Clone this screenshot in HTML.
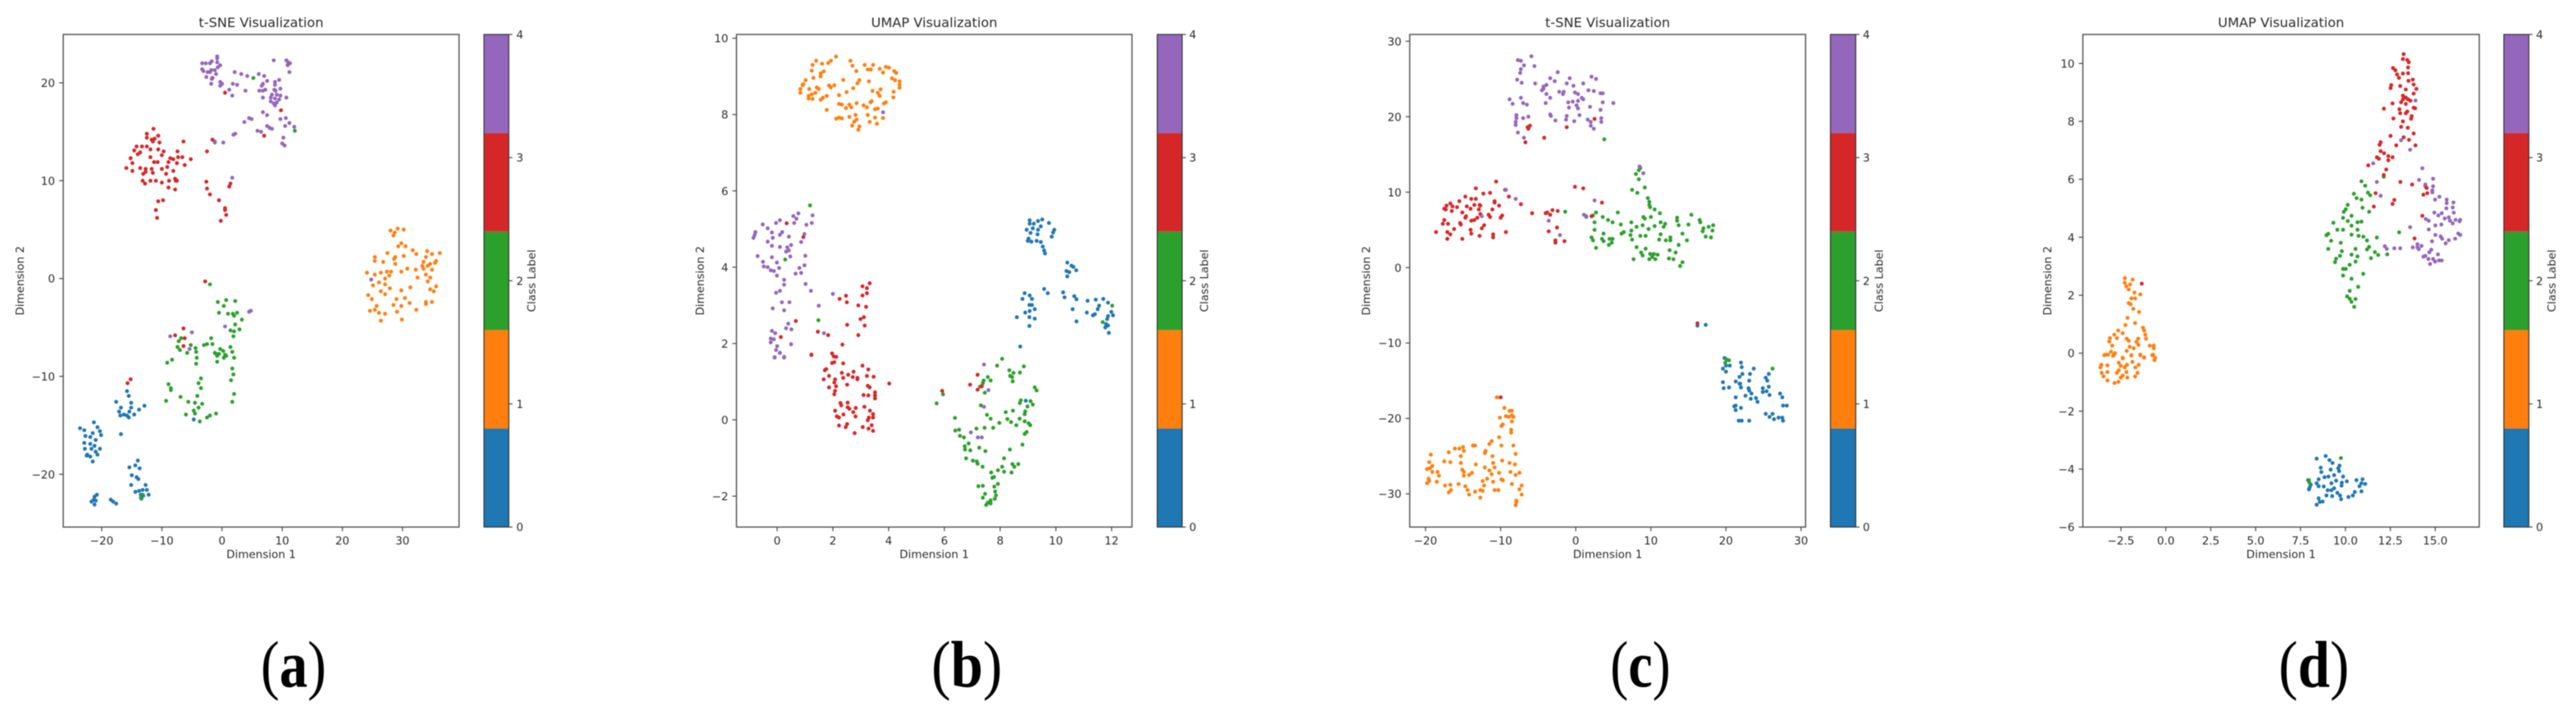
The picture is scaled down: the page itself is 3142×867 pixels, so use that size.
<!DOCTYPE html>
<html lang="en">
<head>
<meta charset="utf-8">
<title>t-SNE and UMAP Visualizations</title>
<style>
html,body{margin:0;padding:0;background:#fff;}
body{width:3142px;height:867px;overflow:hidden;}
svg{display:block;filter:blur(0.6px);}
text{font-family:"DejaVu Sans","Liberation Sans",sans-serif;fill:#2a2a2a;}
.caption{font-family:"Liberation Serif",serif;fill:#000;}
</style>
</head>
<body>
<svg id="figure" xmlns="http://www.w3.org/2000/svg" width="3142" height="867" viewBox="0 0 3142 867"></svg>
<script>
const classTicks = [0, 1, 2, 3, 4];
const classColors = ['#1f77b4', '#ff7f0e', '#2ca02c', '#d62728', '#9467bd'];

const aClass0 = [[-15.8,-11.5],[-15.5,-12.0],[-17.6,-12.6],[-15.1,-12.7],[-12.9,-13.0],[-13.8,-13.4],[-16.8,-13.2],[-15.1,-13.2],[-17.1,-13.6],[-15.4,-13.6],[-14.6,-13.9],[-16.9,-14.0],[-16.3,-13.9],[-15.8,-14.0],[-15.5,-14.2],[-21.3,-14.7],[-20.7,-15.2],[-23.6,-15.3],[-22.9,-15.5],[-20.3,-15.6],[-21.5,-15.8],[-20.1,-16.0],[-16.8,-15.9],[-22.7,-16.1],[-21.9,-16.2],[-21.0,-16.5],[-22.9,-16.8],[-21.9,-16.9],[-21.2,-17.1],[-22.8,-17.4],[-20.3,-17.4],[-21.7,-17.4],[-21.0,-17.7],[-22.4,-18.0],[-20.7,-18.0],[-21.9,-18.2],[-22.5,-18.1],[-21.5,-18.7],[-14.0,-18.6],[-14.4,-19.1],[-15.4,-19.3],[-13.7,-19.4],[-15.0,-20.1],[-14.2,-20.3],[-13.9,-20.5],[-15.1,-21.1],[-12.7,-21.1],[-14.4,-21.8],[-13.8,-21.7],[-13.2,-21.6],[-12.5,-21.6],[-13.5,-22.1],[-12.2,-22.1],[-13.1,-22.2],[-13.4,-22.5],[-20.8,-22.1],[-21.2,-22.3],[-21.3,-22.6],[-21.7,-22.8],[-21.0,-22.7],[-21.2,-23.1],[-18.5,-22.6],[-18.1,-22.8],[-17.6,-23.0],[-4.7,-14.4]];
const aClass1 = [[28.0,4.9],[29.2,5.1],[30.2,5.0],[28.7,4.7],[28.5,4.4],[29.8,3.6],[29.3,3.3],[30.5,3.3],[31.7,2.9],[27.5,2.6],[32.3,2.5],[34.1,2.8],[34.9,2.5],[36.2,2.6],[25.4,2.2],[28.8,2.2],[30.2,2.3],[33.9,2.2],[25.4,1.8],[26.8,1.7],[28.6,2.0],[33.5,1.7],[35.6,1.8],[34.6,1.5],[33.3,1.3],[34.2,1.3],[35.4,1.6],[28.8,1.5],[33.5,1.0],[24.1,0.6],[25.4,0.4],[26.4,0.6],[27.4,0.7],[28.1,0.7],[29.8,0.7],[30.8,1.0],[32.2,0.9],[34.9,0.9],[33.9,0.4],[27.8,0.3],[27.1,0],[32.5,0.1],[26.1,-0.4],[25.1,-0.7],[27.1,-0.6],[34.6,0.1],[34.2,-0.3],[35.6,-0.8],[34.6,-1.1],[35.2,-1.3],[27.9,-1.0],[29.8,-1.2],[31.3,-0.9],[26.4,-1.3],[27.1,-1.6],[24.3,-1.7],[24.9,-2.1],[30.4,-2.0],[29.0,-2.1],[33.9,-2.4],[34.9,-2.4],[31.2,-2.5],[29.8,-2.8],[28.5,-2.7],[25.7,-2.8],[33.9,-2.6],[24.6,-3.3],[25.4,-3.2],[26.1,-3.5],[27.1,-3.6],[29.1,-3.4],[32.3,-3.2],[26.4,-4.3],[29.9,-4.2]];
const aClass2 = [[5.2,20.5],[12.1,15.1],[-1.2,14.0],[-2.0,-0.6],[-0.7,-2.4],[0.7,-2.2],[2.2,-2.3],[0.3,-2.8],[-0.5,-3.5],[1.0,-3.6],[1.8,-3.6],[2.5,-3.5],[2.0,-3.8],[3.3,-4.2],[2.2,-4.7],[1.4,-5.3],[2.0,-5.4],[2.9,-5.2],[1.9,-5.9],[-1.8,-6.1],[-6.8,-6.1],[-7.2,-6.4],[-5.2,-6.8],[-7.4,-7.0],[-3.0,-6.8],[-2.5,-6.7],[-1.6,-6.7],[-7.0,-7.3],[-4.4,-7.1],[-0.3,-7.2],[1.4,-7.0],[0.2,-7.4],[1.7,-7.5],[-5.8,-7.6],[-4.3,-7.5],[-1.2,-7.6],[-0.5,-7.7],[0.5,-7.8],[2.0,-8.1],[-4.2,-8.1],[-8.3,-8.3],[-0.8,-7.9],[-4.3,-8.7],[-1.0,-7.7],[0.7,-7.9],[0.3,-8.1],[-0.8,-8.5],[-9.1,-8.6],[1.7,-9.2],[1.9,-9.8],[1.5,-10.4],[-8.9,-10.8],[-8.5,-11.2],[-8.5,-11.4],[-3.5,-10.2],[-3.9,-10.7],[-3.5,-11.2],[2.0,-11.8],[1.7,-12.6],[-4.1,-12.0],[-6.9,-12.1],[-9.3,-12.5],[-5.6,-12.6],[-4.5,-12.7],[-3.3,-12.8],[-3.9,-13.2],[-4.7,-13.5],[-4.5,-13.8],[-6.0,-13.9],[-1.0,-13.8],[-2.0,-14.0],[-2.5,-14.2],[-3.7,-14.6],[-13.2,-22.1],[-13.5,-22.4]];
const aClass3 = [[-11.4,15.3],[-12.5,14.8],[-10.6,14.6],[-12.5,14.4],[-11.7,14.2],[-11.2,14.3],[-11.5,14.0],[-10.4,13.9],[-6.4,14.0],[-14.2,13.5],[-13.3,13.5],[-12.5,13.5],[-14.6,13.1],[-13.6,12.9],[-11.9,13.2],[-10.6,13.2],[-9.7,13.0],[-7.4,13.0],[-14.0,12.7],[-10.0,12.6],[-15.2,12.3],[-11.9,12.4],[-8.6,12.3],[-8.1,12.2],[-7.3,12.4],[-6.6,12.4],[-5.2,12.2],[-14.9,11.8],[-11.3,11.9],[-10.7,11.9],[-8.9,11.9],[-7.5,11.8],[-6.2,11.6],[-15.9,11.3],[-13.6,11.3],[-12.7,11.2],[-11.7,11.2],[-10.0,11.2],[-9.1,11.4],[-14.9,11.0],[-12.7,10.9],[-11.5,10.8],[-8.1,11.0],[-13.1,10.7],[-9.3,10.7],[-13.2,10.0],[-11.9,10.0],[-11.0,10.0],[-7.8,10.2],[-7.5,10.0],[-12.8,9.7],[-10.0,9.8],[-8.8,10.0],[-7.7,10.0],[-8.9,9.3],[-7.8,9.1],[-10.6,7.9],[-9.8,8.0],[-11.0,7.0],[-10.8,6.2],[-2.5,13.0],[-1.6,14.2],[-2.6,9.9],[-2.5,9.2],[-2.0,8.6],[-0.5,8.0],[0.5,7.2],[0.5,7.0],[0.7,6.5],[-0.2,5.9],[1.4,9.7],[1.2,9.4],[-1.6,20.5],[0.5,19.0],[9.8,17.2],[7.0,14.6],[-6.4,-5.1],[-7.8,-5.8],[-6.2,-6.1],[-6.4,-6.9],[-2.8,-0.3],[-15.2,-10.3],[-15.7,-10.7]];
const aClass4 = [[-0.8,22.7],[-0.8,22.5],[-1.7,22.2],[-3.3,22.0],[-2.7,22.0],[-2.0,22.0],[-0.8,22.1],[-0.3,21.8],[-0.7,21.6],[-1.2,21.3],[-1.8,21.3],[-2.4,21.1],[-3.3,21.4],[-3.1,21.2],[-2.0,21.1],[-1.0,20.9],[-2.6,20.6],[-1.7,20.4],[-0.3,20.1],[0,19.9],[-0.3,19.7],[-1.8,19.9],[2.1,21.1],[3.2,20.9],[4.2,20.7],[6.1,20.9],[7.0,20.7],[8.6,22.3],[10.7,22.3],[11.0,22.1],[11.3,22.0],[10.9,21.8],[11.2,21.1],[7.5,20.2],[6.8,19.9],[6.6,19.7],[8.8,20.1],[9.5,20.3],[8.8,19.8],[1.8,19.9],[2.5,19.8],[1.2,19.3],[1.7,18.7],[3.9,19.2],[6.2,19.2],[6.8,19.2],[7.2,19.3],[8.7,19.3],[9.7,19.4],[8.9,19.2],[6.8,18.5],[8.3,18.8],[9.1,18.8],[9.7,18.7],[10.7,18.5],[8.1,18.5],[8.8,18.4],[9.5,18.3],[8.1,18.1],[8.6,17.9],[9.1,18.0],[8.8,17.7],[6.8,17.0],[7.5,16.7],[3.7,16.0],[4.5,16.4],[4.9,16.3],[9.7,16.3],[10.6,16.4],[10.5,15.6],[11.2,15.9],[12.0,15.5],[7.5,15.6],[7.9,15.4],[8.3,15.3],[5.9,15.1],[6.5,15.0],[2.2,14.8],[1.9,14.7],[10.2,14.4],[10.0,13.8],[10.4,13.6],[0.2,13.9],[-1.2,13.9],[1.7,10.3],[24.8,-0.1],[4.8,-3.3],[4.5,-3.4],[0.5,-4.9],[-8.6,-5.9],[-5.0,-5.5],[-5.4,-7.2]];

const bClass0 = [[9.06,5.23],[9.51,5.25],[9.36,5.21],[9.75,5.16],[9.06,5.14],[9.21,5.14],[9.46,5.07],[8.95,4.98],[9.17,5.02],[9.36,4.98],[9.94,4.98],[9.09,4.90],[9.90,4.91],[9.34,4.86],[9.02,4.75],[9.85,4.80],[8.99,4.69],[9.12,4.67],[9.31,4.69],[9.46,4.66],[9.53,4.54],[9.58,4.44],[9.61,4.36],[10.41,4.12],[10.56,4.04],[10.63,4.01],[10.38,3.90],[10.73,3.92],[10.48,3.87],[10.41,3.76],[9.58,3.43],[9.71,3.32],[10.26,3.34],[8.88,3.32],[9.06,3.26],[10.66,3.24],[10.31,3.21],[8.80,3.17],[9.14,3.17],[10.74,3.16],[11.14,3.12],[11.43,3.15],[11.70,3.17],[9.05,3.01],[9.14,3.01],[10.60,2.90],[11.87,3.07],[11.55,2.99],[9.24,2.90],[9.06,2.85],[8.90,2.81],[11.50,2.90],[11.11,2.81],[11.40,2.77],[11.99,2.83],[11.87,2.72],[12.05,2.74],[8.60,2.69],[9.05,2.69],[9.24,2.65],[11.33,2.74],[10.74,2.58],[11.84,2.64],[9.05,2.46],[11.80,2.51],[11.87,2.47],[11.77,2.42],[11.90,2.28],[8.72,1.92],[8.92,0.50]];
const bClass1 = [[2.11,9.52],[1.40,9.41],[2.63,9.41],[1.93,9.41],[1.83,9.35],[1.61,9.33],[1.27,9.30],[3.14,9.30],[3.44,9.30],[2.70,9.28],[3.90,9.25],[4.01,9.23],[3.68,9.20],[3.25,9.18],[3.36,9.18],[4.20,9.14],[4.27,9.09],[1.24,9.15],[1.67,9.13],[1.56,9.08],[2.84,9.14],[3.80,9.10],[1.56,9.00],[1.30,8.96],[2.37,8.91],[4.12,8.95],[4.23,8.90],[4.39,8.87],[2.95,8.90],[3.29,8.87],[1.02,8.90],[0.94,8.80],[2.88,8.82],[4.39,8.78],[0.91,8.77],[1.86,8.76],[2.05,8.77],[0.83,8.67],[1.15,8.67],[1.42,8.71],[1.49,8.67],[1.93,8.71],[2.73,8.69],[4.39,8.70],[3.71,8.66],[3.42,8.62],[0.83,8.57],[1.37,8.57],[1.24,8.53],[2.22,8.51],[2.49,8.59],[4.18,8.60],[3.61,8.57],[3.68,8.49],[1.13,8.49],[1.78,8.49],[1.64,8.44],[1.56,8.39],[1.27,8.41],[1.13,8.42],[4.17,8.45],[3.39,8.35],[3.90,8.32],[3.35,8.32],[2.85,8.30],[2.22,8.28],[2.32,8.26],[2.59,8.26],[3.83,8.29],[3.10,8.24],[3.22,8.19],[2.66,8.19],[2.47,8.17],[3.61,8.16],[3.51,8.14],[1.78,8.12],[3.80,7.91],[3.25,7.99],[2.81,7.99],[2.59,7.94],[3.51,7.92],[2.12,7.89],[2.32,7.90],[2.85,7.87],[2.76,7.81],[3.32,7.81],[3.58,7.76],[2.69,7.71],[2.95,7.69],[2.91,7.60],[2.22,7.92]];
const bClass2 = [[1.18,5.62],[0.29,4.20],[1.48,2.61],[12.02,2.99],[11.68,2.56],[8.07,1.60],[7.89,1.42],[8.85,1.40],[8.33,1.30],[8.48,1.23],[8.71,1.24],[8.36,1.15],[8.43,1.12],[8.45,1.01],[7.56,1.12],[7.66,1.03],[7.41,1.03],[7.38,0.96],[7.28,0.87],[7.45,0.71],[9.24,0.85],[9.31,0.77],[5.95,0.67],[5.72,0.43],[8.74,0.51],[8.71,0.44],[9.09,0.49],[9.17,0.40],[8.98,0.35],[7.31,0.38],[8.20,0.20],[8.46,0.24],[8.90,0.22],[8.88,0.15],[7.53,0.13],[6.38,0.05],[7.66,0.03],[8.26,0.02],[8.70,0.03],[8.39,-0.06],[8.88,-0.04],[9.02,-0.09],[9.08,-0.14],[8.58,-0.14],[7.97,-0.08],[6.53,-0.26],[6.39,-0.28],[7.15,-0.23],[7.44,-0.21],[7.75,-0.21],[8.95,-0.32],[8.88,-0.37],[6.56,-0.42],[6.70,-0.46],[8.80,-0.65],[6.87,-0.62],[6.73,-0.69],[6.74,-0.78],[6.93,-0.80],[7.25,-0.73],[7.47,-0.82],[8.35,-0.78],[6.78,-1.01],[7.02,-1.07],[7.16,-1.09],[7.19,-1.15],[7.37,-1.23],[8.14,-1.01],[8.07,-1.23],[7.92,-1.32],[7.68,-1.38],[8.14,-1.36],[8.41,-1.38],[8.44,-1.16],[8.51,-1.23],[8.65,-1.16],[7.78,-1.50],[7.72,-1.52],[7.92,-1.68],[7.79,-1.75],[7.22,-1.74],[7.38,-1.73],[7.46,-1.94],[7.38,-2.04],[7.82,-1.88],[7.85,-1.98],[7.81,-2.07],[7.66,-2.11],[7.56,-2.17],[7.50,-2.23],[7.66,-2.19]];
const bClass3 = [[0.34,5.15],[0.94,4.79],[0.67,2.59],[0.13,2.17],[3.32,3.58],[3.06,3.50],[3.22,3.45],[3.22,3.32],[3.06,3.26],[2.47,3.25],[2.24,3.17],[2.50,3.08],[2.91,3.00],[3.19,2.96],[3.11,2.69],[2.99,2.64],[2.51,2.49],[3.14,2.47],[1.46,2.31],[1.83,2.22],[2.91,2.22],[2.34,1.97],[1.23,1.70],[1.97,1.74],[2.12,1.65],[1.23,1.71],[2.03,1.66],[2.05,1.51],[1.97,1.49],[2.37,1.48],[3.06,1.42],[3.27,1.32],[1.76,1.33],[1.71,1.30],[2.32,1.23],[2.74,1.26],[2.55,1.18],[2.37,1.10],[2.71,1.12],[2.88,1.10],[3.46,1.13],[3.22,1.15],[1.86,1.15],[1.67,1.06],[2.08,1.06],[2.05,0.98],[2.88,1.06],[4.02,0.95],[2.51,0.92],[3.25,0.89],[3.32,0.85],[1.86,0.85],[2.11,0.88],[2.08,0.76],[2.05,0.67],[3.51,0.72],[3.51,0.64],[3.10,0.65],[3.27,0.64],[3.51,0.56],[2.27,0.44],[2.53,0.45],[2.30,0.38],[2.53,0.33],[2.59,0.29],[3.13,0.34],[2.82,0.31],[2.08,0.24],[3.33,0.24],[2.73,0.20],[3.44,0.15],[2.38,0.14],[2.14,0.09],[2.22,0.06],[2.81,0.09],[3.44,0.06],[3.29,0.06],[3.25,-0.01],[2.51,-0.11],[2.22,-0.15],[2.46,-0.19],[3.07,-0.19],[3.39,-0.14],[3.28,-0.23],[3.44,-0.29],[2.78,-0.35],[5.92,0.76],[7.19,1.18],[6.92,0.92],[7.34,0.88],[7.19,0.79]];
const bClass4 = [[3.80,8.06],[0.58,5.34],[0.76,5.41],[0.69,5.27],[1.27,5.36],[0.61,5.16],[1.24,5.16],[1.05,5.11],[0.10,5.23],[-0.04,5.16],[-0.52,5.12],[-0.34,5.02],[-0.78,4.92],[-0.19,4.91],[0.18,4.92],[0.98,4.87],[0.10,4.85],[-0.85,4.77],[-0.81,4.84],[-0.16,4.77],[0.42,4.80],[0.86,4.66],[-0.34,4.67],[0.50,4.58],[-0.19,4.56],[0.10,4.53],[0.36,4.52],[0.42,4.44],[0.32,4.41],[-0.70,4.29],[-0.19,4.26],[0.47,4.28],[1.01,4.30],[-0.51,4.14],[-0.01,4.12],[0.07,3.98],[-0.48,4.02],[-0.34,4.00],[-0.23,3.92],[-0.12,3.90],[0.98,4.05],[0.80,3.98],[0.86,3.85],[0.66,3.83],[-0.01,3.78],[0.25,3.67],[0.25,3.54],[1.02,3.56],[1.21,3.38],[0.10,3.38],[-0.04,3.33],[2.00,3.30],[0.17,3.08],[0.44,3.08],[-0.16,2.92],[0.25,2.87],[1.49,2.99],[0.40,2.52],[-0.19,2.33],[-0.07,2.27],[0.32,2.40],[0.51,2.37],[-0.23,2.13],[-0.12,2.11],[-0.23,2.03],[0.50,1.98],[0,1.93],[-0.04,1.83],[0.10,1.76],[-0.09,1.64],[0.25,1.65],[1.68,2.27],[0.10,1.75],[-0.09,1.63],[0.25,1.63],[7.42,1.45],[7.58,0.78],[7.42,0.34],[6.95,-0.33],[7.20,-0.46],[7.34,-0.46]];

const cClass0 = [[16.2,-7.7],[17.3,-7.6],[19.8,-12.0],[22.0,-12.6],[19.6,-13.4],[20.0,-13.0],[20.5,-13.0],[22.1,-13.2],[23.7,-13.4],[23.2,-14.1],[25.7,-14.1],[25.3,-14.6],[22.2,-14.1],[21.8,-14.5],[20.0,-13.8],[21.3,-15.1],[21.9,-15.4],[23.1,-15.0],[25.5,-15.0],[19.6,-15.2],[21.8,-15.4],[19.7,-16.0],[20.4,-15.9],[22.0,-15.9],[23.0,-16.0],[25.7,-15.8],[24.9,-16.0],[23.1,-16.3],[23.4,-16.7],[24.9,-16.5],[25.4,-16.4],[25.8,-16.9],[27.2,-16.7],[27.5,-17.2],[21.3,-17.2],[22.6,-17.0],[23.3,-17.4],[24.0,-17.3],[24.2,-17.8],[27.6,-18.3],[28.1,-18.3],[21.3,-18.3],[21.1,-18.4],[22.0,-18.6],[21.3,-18.9],[25.3,-19.4],[26.2,-19.4],[25.8,-19.8],[27.0,-19.9],[27.5,-19.9],[27.6,-20.3],[26.4,-20.1],[21.7,-20.3],[22.1,-20.3],[23.1,-20.3]];
const cClass1 = [[-10.5,-17.2],[-9.5,-18.6],[-8.8,-19.0],[-8.5,-19.0],[-9.3,-19.7],[-8.9,-19.8],[-10.1,-19.9],[-8.5,-19.6],[-8.3,-19.8],[-8.5,-20.4],[-9.7,-20.8],[-9.9,-21.0],[-8.6,-21.5],[-8.6,-21.9],[-10.2,-22.5],[-11.2,-23.0],[-11.5,-23.4],[-9.9,-23.6],[-8.3,-23.6],[-13.4,-23.6],[-13.7,-23.6],[-15.0,-23.8],[-15.5,-24.0],[-16.1,-24.0],[-14.9,-24.3],[-15.3,-25.0],[-16.9,-24.5],[-12.0,-24.3],[-12.1,-24.6],[-19.3,-24.8],[-11.1,-25.0],[-8.0,-24.7],[-19.5,-25.8],[-17.5,-25.7],[-16.7,-25.8],[-15.3,-25.9],[-13.3,-26.1],[-11.0,-25.9],[-9.8,-25.6],[-8.8,-25.9],[-8.1,-26.1],[-19.1,-26.3],[-12.1,-26.5],[-19.4,-26.6],[-10.8,-26.5],[-19.8,-26.7],[-15.1,-26.8],[-11.5,-26.9],[-14.9,-27.1],[-13.8,-27.2],[-14.2,-27.5],[-8.7,-27.1],[-7.5,-27.2],[-19.1,-27.1],[-18.4,-27.1],[-18.2,-27.6],[-14.9,-27.6],[-11.2,-27.4],[-10.2,-27.2],[-8.0,-27.5],[-19.6,-28.0],[-19.5,-28.3],[-18.5,-28.4],[-19.8,-28.6],[-12.4,-28.3],[-11.8,-28.0],[-9.9,-28.1],[-9.7,-28.2],[-11.0,-28.4],[-17.4,-28.9],[-16.7,-28.8],[-15.6,-28.7],[-14.7,-29.0],[-12.2,-28.9],[-8.5,-28.7],[-7.2,-28.9],[-14.4,-29.5],[-16.9,-29.8],[-16.6,-29.5],[-13.4,-29.7],[-12.7,-29.5],[-12.4,-29.6],[-10.8,-29.5],[-10.3,-29.5],[-7.5,-29.4],[-14.2,-30.1],[-12.7,-30.5],[-7.2,-30.1],[-7.9,-30.9],[-7.9,-31.1],[-8.0,-31.5]];
const cClass2 = [[3.8,17.0],[8.6,13.2],[8.4,12.9],[8.0,12.4],[8.4,11.7],[9.2,10.6],[7.5,10.3],[8.2,9.9],[9.6,9.2],[9.8,8.7],[9.8,8.3],[9.9,8.0],[10.5,7.7],[11.2,7.2],[5.6,7.3],[-1.4,7.4],[2.7,7.3],[1.4,6.7],[2.3,6.9],[3.6,6.7],[4.3,6.3],[4.9,6.0],[2.5,6.0],[6.0,5.7],[7.4,6.0],[9.0,6.7],[9.2,6.5],[10.0,6.7],[11.3,6.0],[10.5,5.5],[11.9,5.8],[11.7,5.4],[9.7,5.1],[8.9,5.6],[8.1,5.4],[7.4,4.9],[13.5,6.6],[13.7,5.6],[13.5,6.2],[15.4,7.0],[15.0,5.7],[16.5,6.3],[16.6,6.0],[18.3,5.6],[17.7,5.4],[17.0,5.2],[18.2,4.9],[16.9,4.8],[17.3,4.1],[18.0,4.0],[2.5,5.0],[6.4,4.7],[6.1,4.5],[3.7,4.5],[7.3,4.3],[8.6,4.2],[9.3,4.2],[11.3,4.4],[11.1,3.7],[14.2,4.5],[12.6,4.0],[2.1,4.0],[2.3,3.6],[3.5,3.8],[4.5,3.8],[4.9,3.8],[3.7,3.5],[4.8,3.3],[4.4,3.0],[7.5,3.7],[12.0,3.6],[12.6,3.6],[14.8,3.6],[13.7,3.0],[2.7,2.6],[8.1,2.7],[9.3,2.5],[12.5,2.3],[13.3,2.0],[8.7,2.0],[8.9,1.6],[9.9,1.8],[10.4,1.8],[10.9,1.7],[10.2,1.4],[9.8,1.1],[10.6,1.1],[7.7,1.1],[12.4,1.2],[13.0,1.1],[14.2,0.7],[13.9,0.2],[20.1,-12.2],[20.4,-12.3],[19.9,-12.6],[26.2,-13.4]];
const cClass3 = [[-6.1,18.8],[-6.4,18.6],[2.5,19.7],[-1.2,18.6],[-4.2,17.2],[-6.7,16.6],[-6.3,18.4],[-10.6,11.4],[-13.3,10.5],[-9.4,10.3],[-12.3,9.8],[-11.4,9.9],[-8.9,9.4],[-14.7,9.4],[-15.5,8.8],[-13.9,9.1],[-13.3,9.1],[-10.8,8.8],[-7.3,8.4],[-16.7,8.5],[-17.2,8.2],[-17.5,7.8],[-16.4,8.1],[-15.8,8.0],[-14.5,8.1],[-13.5,8.3],[-12.8,8.3],[-12.7,8.2],[-10.8,8.6],[-10.2,8.2],[-17.3,7.7],[-16.5,7.5],[-14.0,7.8],[-12.9,7.7],[-11.1,7.7],[-15.1,7.3],[-12.7,7.1],[-11.6,7.0],[-11.4,6.7],[-9.8,6.9],[-10.0,6.6],[-14.6,6.8],[-14.7,6.6],[-13.1,6.6],[-13.5,6.3],[-13.9,6.2],[-17.5,6.3],[-17.7,5.8],[-17.0,5.8],[-15.4,5.9],[-12.2,5.6],[-15.3,5.7],[-12.5,5.2],[-16.2,5.1],[-14.0,5.0],[-13.9,4.5],[-16.7,4.4],[-18.6,4.7],[-17.1,4.7],[-9.3,4.7],[-12.8,4.2],[-11.0,4.4],[-11.0,4.0],[-17.1,3.8],[-15.1,3.8],[-5.8,7.2],[-4.0,7.2],[-3.8,7.3],[-3.1,7.6],[-2.4,7.5],[-3.4,7.0],[-0.1,10.7],[1.0,10.5],[3.5,8.6],[2.1,6.8],[-2.5,5.3],[-3.6,4.8],[-2.7,3.6],[-1.5,3.5],[-2.7,3.3],[16.2,-7.4],[-10.0,-17.2]];
const cClass4 = [[-5.9,28.0],[-7.7,27.5],[-7.3,27.4],[-5.5,26.7],[-6.9,26.8],[-7.3,26.3],[-7.4,25.8],[-7.8,24.9],[-7.2,24.5],[-5.4,24.4],[-2.4,25.9],[-3.4,25.1],[-2.8,24.7],[-0.8,25.1],[2.1,25.3],[2.7,25.0],[-1.2,24.4],[-0.3,24.1],[1.0,24.4],[-3.9,24.2],[-4.3,24.0],[-4.5,23.5],[-4.3,23.7],[-3.9,23.0],[-3.4,22.5],[-2.2,23.3],[-1.7,23.0],[-1.6,23.3],[-0.1,23.2],[0.3,23.0],[1.7,23.5],[2.4,23.4],[3.3,23.1],[3.6,23.1],[0.8,22.5],[-8.8,22.3],[-7.3,22.5],[-8.4,21.7],[-7.0,21.8],[-6.5,21.6],[-4.0,21.8],[-1.0,21.9],[-0.4,22.0],[0.3,22.1],[1.0,22.3],[3.6,21.9],[5.0,21.8],[-0.9,21.2],[0.1,21.5],[0.3,21.1],[1.9,21.3],[3.3,20.9],[-3.4,20.3],[-3.3,20.1],[-1.2,20.1],[0.5,20.2],[-1.3,19.6],[-7.9,20.2],[-7.9,19.8],[-7.0,19.8],[-6.3,20.0],[-8.0,19.3],[-8.0,18.9],[-2.7,19.5],[-0.2,19.4],[1.6,19.6],[2.0,19.3],[3.4,19.8],[3.4,19.3],[2.0,18.8],[2.4,18.4],[-7.7,17.9],[-6.9,17.2],[8.5,13.4],[9.0,12.5],[-9.3,10.3],[-8.0,9.1],[2.5,8.9],[-12.5,6.8],[-3.6,6.2],[-2.1,4.3],[1.1,7.0],[1.4,6.8]];

const dClass0 = [[8.40,-3.64],[8.90,-3.55],[9.11,-3.69],[9.28,-3.79],[9.67,-3.88],[9.60,-3.97],[8.62,-3.95],[8.66,-4.10],[9.18,-4.02],[9.65,-4.07],[9.37,-4.21],[9.05,-4.26],[8.83,-4.28],[9.87,-4.26],[8.51,-4.35],[10.61,-4.38],[10.08,-4.42],[10.95,-4.35],[9.48,-4.40],[7.92,-4.38],[9.80,-4.47],[8.40,-4.49],[9.22,-4.49],[10.89,-4.49],[8.07,-4.54],[8.51,-4.59],[11.10,-4.51],[8.01,-4.63],[9.78,-4.57],[10.78,-4.59],[8.79,-4.60],[9.37,-4.66],[9.01,-4.73],[7.97,-4.70],[9.22,-4.73],[10.89,-4.77],[9.55,-4.82],[10.52,-4.79],[9.70,-4.91],[8.94,-4.91],[10.41,-4.91],[9.26,-4.93],[10.17,-4.96],[9.76,-5.04],[8.51,-5.01],[8.57,-5.13],[8.73,-5.12],[8.40,-5.23]];
const dClass1 = [[-2.28,2.59],[-1.85,2.54],[-2.29,2.43],[-1.99,2.37],[-2.20,2.31],[-2.07,2.20],[-1.75,2.09],[-1.42,2.03],[-1.92,1.89],[-1.71,1.89],[-2.07,1.73],[-1.96,1.69],[-1.81,1.53],[-1.49,1.42],[-2.13,1.22],[-1.71,1.04],[-2.25,0.97],[-1.27,0.88],[-1.21,0.78],[-2.65,0.78],[-2.40,0.69],[-2.87,0.64],[-3.11,0.52],[-2.72,0.52],[-1.14,0.64],[-2.18,0.50],[-2.07,0.43],[-1.54,0.50],[-1.10,0.50],[-3.15,0.40],[-1.64,0.39],[-2.99,0.26],[-1.53,0.29],[-0.89,0.26],[-0.67,0.26],[-2.01,0.22],[-1.79,0.17],[-0.67,0.17],[-3.05,0.05],[-2.83,0],[-2.18,0.08],[-3.43,-0.07],[-3.22,-0.05],[-2.94,-0.09],[-1.92,-0.07],[-1.42,-0.07],[-0.71,-0.05],[-2.40,-0.18],[-1.21,-0.16],[-0.60,-0.16],[-3.34,-0.05],[-2.89,-0.05],[-1.92,-0.08],[-1.42,-0.05],[-0.76,-0.07],[-2.40,-0.16],[-1.21,-0.14],[-0.63,-0.24],[-2.62,-0.33],[-1.86,-0.30],[-3.59,-0.40],[-2.16,-0.40],[-1.51,-0.40],[-2.51,-0.44],[-3.25,-0.42],[-3.64,-0.49],[-2.29,-0.49],[-1.69,-0.49],[-2.62,-0.59],[-3.25,-0.65],[-3.57,-0.68],[-2.19,-0.65],[-1.58,-0.68],[-2.73,-0.68],[-3.47,-0.80],[-2.40,-0.77],[-2.14,-0.84],[-1.71,-0.80],[-2.51,-0.84],[-3.25,-0.94],[-2.86,-1.03],[-2.64,-0.99]];
const dClass2 = [[12.13,6.09],[10.89,5.93],[11.10,5.78],[11.25,5.54],[11.38,5.45],[10.47,5.50],[10.62,5.35],[10.89,5.30],[10.13,5.12],[10.02,4.97],[10.95,5.02],[9.91,4.88],[11.32,4.88],[9.87,4.67],[10.34,4.74],[9.33,4.50],[10.13,4.56],[10.89,4.54],[10.67,4.52],[10.34,4.40],[9.55,4.26],[10.67,4.26],[9.04,4.12],[8.94,4.07],[9.87,4.26],[10.34,4.09],[10.73,4.05],[11.00,4.02],[11.75,3.99],[12.99,4.17],[9.20,3.88],[11.20,3.89],[9.74,3.81],[11.32,3.67],[10.56,3.60],[9.04,3.60],[9.80,3.52],[10.34,3.40],[11.20,3.58],[11.64,3.49],[11.82,3.39],[12.33,3.41],[11.42,3.28],[10.67,3.34],[9.70,3.36],[9.42,3.14],[10.24,3.05],[10.56,3.16],[9.87,2.91],[10.02,2.91],[10.99,2.74],[9.87,2.68],[10.34,2.57],[10.71,2.29],[10.24,2.15],[10.09,1.96],[10.56,1.87],[10.34,1.77],[10.49,1.60],[10.24,1.88],[9.48,3.26],[9.75,-3.62],[7.97,-4.38],[7.99,-4.47]];
const dClass3 = [[13.24,10.32],[13.20,10.15],[13.44,10.12],[13.53,10.04],[12.65,9.84],[13.49,9.86],[12.78,9.76],[13.20,9.65],[13.49,9.66],[12.87,9.62],[12.98,9.50],[13.75,9.44],[13.51,9.40],[12.55,9.25],[13.05,9.22],[13.80,9.27],[12.51,9.15],[13.95,9.12],[13.36,9.10],[13.80,8.96],[13.20,8.89],[13.36,8.82],[12.62,8.62],[13.20,8.76],[13.49,8.76],[13.10,8.66],[13.36,8.60],[13.62,8.71],[12.14,8.44],[13.80,8.47],[13.01,8.42],[13.88,8.45],[13.44,8.34],[13.36,8.28],[13.05,8.28],[13.69,8.18],[12.67,8.10],[13.65,8.09],[13.20,8.00],[13.10,7.81],[13.47,7.78],[12.51,7.50],[13.80,7.58],[13.24,7.45],[13.54,7.36],[13.90,7.17],[12.83,7.17],[11.96,7.28],[11.90,7.19],[11.96,6.97],[12.15,6.90],[11.75,6.76],[11.86,6.71],[12.39,6.80],[12.62,6.76],[12.39,6.66],[11.27,6.48],[12.27,6.34],[12.13,6.15],[13.06,5.91],[13.71,5.82],[14.45,5.77],[14.52,5.70],[14.34,5.47],[14.56,5.52],[11.68,5.52],[12.72,5.29],[12.62,5.15],[11.58,5.06],[14.28,4.74],[13.85,3.96],[-1.34,2.40]];
const dClass4 = [[13.90,8.72],[13.10,7.35],[13.60,7.02],[11.55,6.55],[14.28,6.38],[11.75,5.91],[14.10,5.98],[14.88,6.02],[14.45,5.82],[14.88,5.76],[14.84,5.62],[14.84,5.55],[11.96,5.43],[15.23,5.40],[15.64,5.30],[14.99,5.30],[16.01,5.20],[15.64,5.18],[14.95,4.85],[15.36,4.83],[15.97,5.03],[15.62,5.00],[16.03,4.85],[15.75,4.69],[15.82,4.57],[16.35,4.55],[15.17,4.75],[14.47,4.63],[14.64,4.57],[15.53,4.65],[16.13,4.60],[16.39,4.60],[15.97,4.48],[15.01,4.41],[15.34,4.44],[14.64,4.27],[13.60,4.35],[16.28,4.13],[16.39,4.08],[15.01,4.08],[15.30,4.03],[15.38,3.95],[16.11,3.95],[14.82,3.86],[15.75,3.90],[15.58,3.79],[12.72,3.62],[13.05,3.62],[12.19,3.69],[12.30,3.60],[13.75,3.65],[14.01,3.76],[14.01,3.65],[14.23,3.70],[14.08,3.59],[14.78,3.57],[14.67,3.48],[14.45,3.36],[15.15,3.41],[14.62,3.25],[14.88,3.25],[14.99,3.16],[15.21,3.20],[15.36,3.20],[14.71,3.08],[14.34,3.33]];

const figurePanels = [
  {id:'a', title:'t-SNE Visualization', series:[aClass0,aClass1,aClass2,aClass3,aClass4], xDomain:[-26.4,39.4], yDomain:[24.95,-25.4], xTicks:[-20,-10,0,10,20,30], xTickText:['−20','−10','0','10','20','30'], yTicks:[-20,-10,0,10,20], yTickText:['−20','−10','0','10','20'], box:[77.1,559.9], bar:[590.3,620.6], barText:634, barLabel:648, yLabel:24, caption:{x:318,w:80,letter:'a'}},
  {id:'b', title:'UMAP Visualization', series:[bClass0,bClass1,bClass2,bClass3,bClass4], xDomain:[-1.46,12.73], yDomain:[10.1,-2.81], xTicks:[0,2,4,6,8,10,12], xTickText:['0','2','4','6','8','10','12'], yTicks:[-2,0,2,4,6,8,10], yTickText:['−2','0','2','4','6','8','10'], box:[898.3,1380.7], bar:[1411.5,1441.9], barText:1454.8, barLabel:1468.7, yLabel:853.6, caption:{x:1136,w:86.5,letter:'b'}},
  {id:'c', title:'t-SNE Visualization', series:[cClass0,cClass1,cClass2,cClass3,cClass4], xDomain:[-22.1,30.6], yDomain:[30.9,-34.4], xTicks:[-20,-10,0,10,20,30], xTickText:['−20','−10','0','10','20','30'], yTicks:[-30,-20,-10,0,10,20,30], yTickText:['−30','−20','−10','0','10','20','30'], box:[1719.5,2202.3], bar:[2232.6,2263.5], barText:2276.4, barLabel:2291.3, yLabel:1666.2, caption:{x:1964,w:73.6,letter:'c'}},
  {id:'d', title:'UMAP Visualization', series:[dClass0,dClass1,dClass2,dClass3,dClass4], xDomain:[-4.62,17.45], yDomain:[11.0,-6.0], xTicks:[-2.5,0,2.5,5,7.5,10,12.5,15], xTickText:['−2.5','0.0','2.5','5.0','7.5','10.0','12.5','15.0'], yTicks:[-6,-4,-2,0,2,4,6,8,10], yTickText:['−6','−4','−2','0','2','4','6','8','10'], box:[2540.5,3024], bar:[3054,3084.5], barText:3097.5, barLabel:3112, yLabel:2497, caption:{x:2779.3,w:86,letter:'d'}}
];

const svgNS = 'http://www.w3.org/2000/svg';
const figure = document.getElementById('figure');
const axesTop = 42;
const axesBottom = 642.7;

function make(tag, attrs, parent) {
  const el = document.createElementNS(svgNS, tag);
  for (const key in attrs) el.setAttribute(key, attrs[key]);
  parent.appendChild(el);
  return el;
}
function linearScale(domain, range) {
  return function (v) {
    return range[0] + (v - domain[0]) / (domain[1] - domain[0]) * (range[1] - range[0]);
  };
}
function drawPanel(panel) {
  const group = make('g', {}, figure);
  
  
  const xScale = linearScale(panel.xDomain, panel.box);
  const yScale = linearScale(panel.yDomain, [axesTop, axesBottom]);
  const centerX = (panel.box[0] + panel.box[1]) / 2;
  const centerY = (axesTop + axesBottom) / 2;

  panel.series.forEach(function (points, classIndex) {
    const layer = make('g', {fill: classColors[classIndex]}, group);
    
    
    points.forEach(function (p) {
      const dot = make('circle', {cx: xScale(p[0]).toFixed(1), cy: yScale(p[1]).toFixed(1), r: 2.4}, layer);
      
      
    });
  });

  const frame = make('rect', {x: panel.box[0], y: axesTop, width: panel.box[1] - panel.box[0], height: axesBottom - axesTop, fill: 'none', stroke: '#555', 'stroke-width': 1.5}, group);
  
  

  panel.xTicks.forEach(function (t, i) {
    const px = xScale(t);
    const mark = make('line', {x1: px, x2: px, y1: axesBottom, y2: axesBottom + 5, stroke: '#444', 'stroke-width': 1.2}, group);
    
    
    const label = make('text', {x: px, y: 664, 'text-anchor': 'middle', 'font-size': 13.5}, group);
    
    
    label.textContent = panel.xTickText[i];
  });
  panel.yTicks.forEach(function (t, i) {
    const py = yScale(t);
    const mark = make('line', {x1: panel.box[0] - 5, x2: panel.box[0], y1: py, y2: py, stroke: '#444', 'stroke-width': 1.2}, group);
    
    
    const label = make('text', {x: panel.box[0] - 10, y: py + 5, 'text-anchor': 'end', 'font-size': 13.5}, group);
    
    
    label.textContent = panel.yTickText[i];
  });

  const title = make('text', {x: centerX, y: 33, 'text-anchor': 'middle', 'font-size': 16.2}, group);
  
  
  title.textContent = panel.title;

  const xTitle = make('text', {x: centerX, y: 680.5, 'text-anchor': 'middle', 'font-size': 13.5}, group);
  
  
  xTitle.textContent = 'Dimension 1';

  const yTitle = make('text', {x: panel.yLabel + 5, y: centerY, 'text-anchor': 'middle', 'font-size': 13.5, transform: 'rotate(-90 ' + (panel.yLabel + 5) + ' ' + centerY + ')'}, group);
  
  
  yTitle.textContent = 'Dimension 2';

  const barScale = linearScale([0, 4], [axesBottom, axesTop]);
  const barWidth = panel.bar[1] - panel.bar[0];
  const segmentHeight = (axesBottom - axesTop) / classColors.length;
  classColors.forEach(function (color, i) {
    const seg = make('rect', {x: panel.bar[0], y: axesBottom - (i + 1) * segmentHeight, width: barWidth, height: segmentHeight, fill: color}, group);
    
    
  });
  const barFrame = make('rect', {x: panel.bar[0], y: axesTop, width: barWidth, height: axesBottom - axesTop, fill: 'none', stroke: '#333', 'stroke-width': 1.2}, group);
  
  
  classTicks.forEach(function (t) {
    const py = barScale(t);
    const mark = make('line', {x1: panel.bar[1], x2: panel.bar[1] + 4.5, y1: py, y2: py, stroke: '#444', 'stroke-width': 1.2}, group);
    
    
    const label = make('text', {x: panel.barText, y: py + 5, 'text-anchor': 'middle', 'font-size': 13.5}, group);
    
    
    label.textContent = String(t);
  });
  const barTitle = make('text', {x: panel.barLabel + 5, y: centerY, 'text-anchor': 'middle', 'font-size': 13.5, transform: 'rotate(-90 ' + (panel.barLabel + 5) + ' ' + centerY + ')'}, group);
  
  
  barTitle.textContent = 'Class Label';

  const caption = make('text', {class: 'caption', x: panel.caption.x, y: 837.5, 'font-size': 80, textLength: panel.caption.w, lengthAdjust: 'spacingAndGlyphs'}, group);
  
  
  const open = make('tspan', {}, caption);
  open.textContent = '(';
  const letter = make('tspan', {'font-weight': 'bold'}, caption);
  letter.textContent = panel.caption.letter;
  const close = make('tspan', {}, caption);
  close.textContent = ')';
}
figurePanels.forEach(drawPanel);
</script>
</body>
</html>
